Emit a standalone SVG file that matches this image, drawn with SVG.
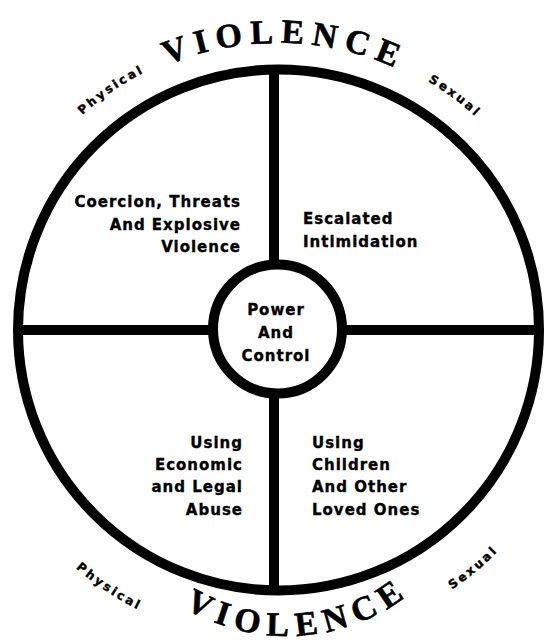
<svg xmlns="http://www.w3.org/2000/svg" width="549" height="644" viewBox="0 0 549 644">
  <style>
    .ring { fill: none; stroke: #000; stroke-width: 10; }
    .spoke { stroke: #000; stroke-width: 10; stroke-linecap: butt; }
    .hub { fill: #fff; stroke: #000; stroke-width: 10; }
    .q { font-family: "DejaVu Sans", "Liberation Sans", sans-serif; font-weight: bold; font-size: 15px; letter-spacing: 1px; fill: #000; stroke: #000; stroke-width: 0.35; }
    .big { font-family: "Liberation Serif", "DejaVu Serif", serif; font-weight: bold; font-size: 34px; letter-spacing: 7.5px; fill: #000; stroke: #000; stroke-width: 0.6; }
    .small { font-family: "DejaVu Sans", "Liberation Sans", sans-serif; font-weight: bold; font-size: 12px; letter-spacing: 2.6px; fill: #000; stroke: #000; stroke-width: 0.4; }
  </style>
  <defs>
    <!-- baseline arcs for the curved labels -->
    <path id="arcTopBig" d="M -12 333 A 290 290 0 0 1 568 333"/>
    <path id="arcBotBig" d="M 87 436 A 200 200 0 0 0 487 436"/>
    <path id="arcTopSmall" d="M -15 333 A 293 293 0 0 1 571 333"/>
    <path id="arcBotSmall" d="M -32 333 A 310 310 0 0 0 588 333"/>
  </defs>
  <rect width="549" height="644" fill="#fff"/>

  <!-- outer wheel -->
  <g id="wheel">
    <circle class="ring" cx="278.5" cy="330" r="260.5"/>
  </g>

  <!-- spokes dividing the four quadrants -->
  <g id="connectors">
    <line class="spoke" x1="274" y1="66" x2="274" y2="594"/>
    <line class="spoke" x1="14" y1="330" x2="543" y2="330"/>
  </g>

  <!-- hub -->
  <g id="node-power-control">
    <circle class="hub" cx="277.5" cy="329" r="64.5"/>
    <text class="q" text-anchor="middle" x="276" y="315">Power</text>
    <text class="q" text-anchor="middle" x="276" y="338">And</text>
    <text class="q" text-anchor="middle" x="276" y="361">Control</text>
  </g>

  <g id="node-coercion">
    <text class="q" text-anchor="end" x="241" y="207">Coercion, Threats</text>
    <text class="q" text-anchor="end" x="241" y="230">And Explosive</text>
    <text class="q" text-anchor="end" x="241" y="252">Violence</text>
  </g>

  <g id="node-intimidation">
    <text class="q" x="303" y="224">Escalated</text>
    <text class="q" x="303" y="247">Intimidation</text>
  </g>

  <g id="node-economic">
    <text class="q" text-anchor="end" x="243" y="448">Using</text>
    <text class="q" text-anchor="end" x="243" y="470">Economic</text>
    <text class="q" text-anchor="end" x="243" y="492">and Legal</text>
    <text class="q" text-anchor="end" x="243" y="515">Abuse</text>
  </g>

  <g id="node-children">
    <text class="q" x="312" y="448">Using</text>
    <text class="q" x="312" y="470">Children</text>
    <text class="q" x="312" y="492">And Other</text>
    <text class="q" x="312" y="515">Loved Ones</text>
  </g>

  <!-- curved rim labels -->
  <g id="label-violence-top">
    <text class="big" text-anchor="middle"><textPath href="#arcTopBig" startOffset="462">VIOLENCE</textPath></text>
  </g>
  <g id="label-violence-bottom">
    <text class="big" text-anchor="middle"><textPath href="#arcBotBig" startOffset="327">VIOLENCE</textPath></text>
  </g>
  <g id="label-physical-top">
    <text class="small" text-anchor="middle"><textPath href="#arcTopSmall" startOffset="284">Physical</textPath></text>
  </g>
  <g id="label-sexual-top">
    <text class="small" text-anchor="middle"><textPath href="#arcTopSmall" startOffset="648">Sexual</textPath></text>
  </g>
  <g id="label-physical-bottom">
    <text class="small" text-anchor="middle"><textPath href="#arcBotSmall" startOffset="305">Physical</textPath></text>
  </g>
  <g id="label-sexual-bottom">
    <text class="small" text-anchor="middle"><textPath href="#arcBotSmall" startOffset="702">Sexual</textPath></text>
  </g>
</svg>
